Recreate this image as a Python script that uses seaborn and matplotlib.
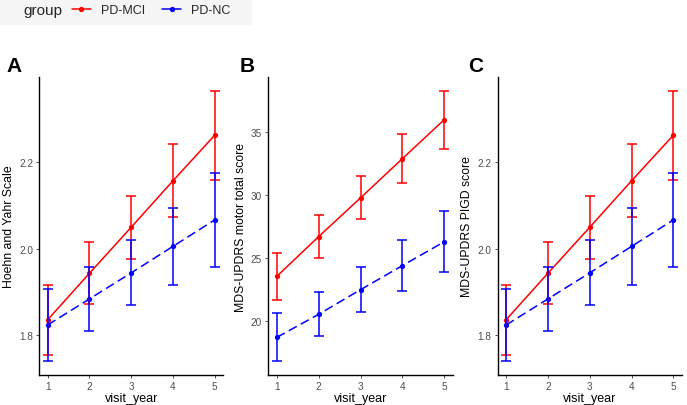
import numpy as np
import pandas as pd
import matplotlib
matplotlib.use("Agg")
import matplotlib.pyplot as plt
from matplotlib.lines import Line2D
from matplotlib.patches import Rectangle
import seaborn as sns

sns.set_style("white")
plt.rcParams['font.family'] = ['Liberation Sans', 'DejaVu Sans']

visit_year = [1, 2, 3, 4, 5]
groups = ["PD-MCI", "PD-NC"]

# Panel A: Hoehn and Yahr Scale
hy_mci = [1.836, 1.943, 2.049, 2.156, 2.261]
hy_mci_se = [0.080, 0.071, 0.072, 0.084, 0.103]
hy_nc = [1.824, 1.884, 1.944, 2.005, 2.066]
hy_nc_se = [0.084, 0.073, 0.075, 0.088, 0.109]

# Panel B: MDS-UPDRS motor total score
mt_mci = [23.55, 26.70, 29.77, 32.88, 35.97]
mt_mci_se = [1.83, 1.69, 1.70, 1.95, 2.30]
mt_nc = [18.72, 20.55, 22.50, 24.41, 26.30]
mt_nc_se = [1.90, 1.75, 1.80, 2.04, 2.40]

# Panel C: MDS-UPDRS PIGD score
pg_mci = [1.836, 1.943, 2.049, 2.156, 2.261]
pg_mci_se = [0.080, 0.071, 0.072, 0.084, 0.103]
pg_nc = [1.824, 1.884, 1.944, 2.005, 2.066]
pg_nc_se = [0.084, 0.073, 0.075, 0.088, 0.109]

panels = [
    ("A", "Hoehn and Yahr Scale", hy_mci, hy_mci_se, hy_nc, hy_nc_se, [1.8, 2.0, 2.2], "{:.1f}"),
    ("B", "MDS-UPDRS motor total score", mt_mci, mt_mci_se, mt_nc, mt_nc_se, [20, 25, 30, 35], "{:d}"),
    ("C", "MDS-UPDRS PIGD score", pg_mci, pg_mci_se, pg_nc, pg_nc_se, [1.8, 2.0, 2.2], "{:.1f}"),
]

colors = {"PD-MCI": "#FF0000", "PD-NC": "#0000FF"}
dashes = {"PD-MCI": "", "PD-NC": (6, 3)}

fig = plt.figure(figsize=(6.87, 4.06), dpi=100)
lefts = [39.3 / 687, 268.3 / 687, 497.7 / 687]
widths = [183.7 / 687, 184.4 / 687, 184.0 / 687]
bottom = 1 - 376.0 / 406
height = (376.0 - 78) / 406
label_x = [6 / 687, 240 / 687, 468 / 687]

for i, (letter, ylabel, m1, s1, m2, s2, yt, fmt) in enumerate(panels):
    ax = fig.add_axes([lefts[i], bottom, widths[i], height])
    df = pd.DataFrame({
        "visit_year": visit_year * 2,
        "value": list(m1) + list(m2),
        "se": list(s1) + list(s2),
        "group": [groups[0]] * 5 + [groups[1]] * 5,
    })
    sns.lineplot(data=df, x="visit_year", y="value", hue="group", style="group",
                 palette=colors, dashes=dashes, markers={"PD-MCI": "o", "PD-NC": "o"},
                 markersize=3.8, markeredgewidth=0, linewidth=1.1, ax=ax, legend=False)
    for g in groups:
        sub = df[df.group == g]
        ax.errorbar(sub.visit_year, sub.value, yerr=sub.se, fmt="none",
                    ecolor=colors[g], elinewidth=1.1, capsize=3.8, capthick=1.1)
    lo = (df.value - df.se).min()
    hi = (df.value + df.se).max()
    pad = (hi - lo) * 0.05
    ax.set_ylim(lo - pad, hi + pad)
    ax.set_xlim(0.8, 5.2)
    ax.set_xticks(visit_year)
    ax.set_xticklabels([str(v) for v in visit_year])
    ax.set_yticks(yt)
    ax.set_yticklabels([fmt.format(v) for v in yt])
    ax.set_xlabel("visit_year", fontsize=9, color="black", labelpad=0.5)
    ax.set_ylabel(ylabel, fontsize=8.8, color="black", labelpad=3)
    ax.tick_params(axis="both", which="both", length=2.5, width=0.6, color="#333333",
                   labelsize=7.2, labelcolor="#4D4D4D", pad=2, direction="out",
                   bottom=True, left=True)
    for side in ["top", "right"]:
        ax.spines[side].set_visible(False)
    for side in ["left", "bottom"]:
        ax.spines[side].set_color("black")
        ax.spines[side].set_linewidth(1.0)
    ax.grid(False)
    fig.text(label_x[i], 1 - 66 / 406, letter, fontsize=15, fontweight="bold",
             ha="left", va="center", color="black")

# legend
fig.patches.append(Rectangle((0, 1 - 26 / 406), 252 / 687, 26 / 406,
                             transform=fig.transFigure, facecolor="#F5F5F5",
                             edgecolor="none", zorder=0))
fig.text(23 / 687, 1 - 11 / 406, "group", fontsize=11, ha="left", va="center")
handles = [Line2D([0], [0], color=colors[g], lw=1.1, marker="o", markersize=3.8,
                  markeredgewidth=0) for g in groups]
fig.legend(handles, groups, loc="center left", bbox_to_anchor=(72 / 687, 1 - 11 / 406),
           ncol=2, frameon=False, fontsize=9, handlelength=1.5, handletextpad=0.8,
           columnspacing=1.4, borderaxespad=0, borderpad=0)

fig.savefig("out.png", dpi=100, facecolor="white")
